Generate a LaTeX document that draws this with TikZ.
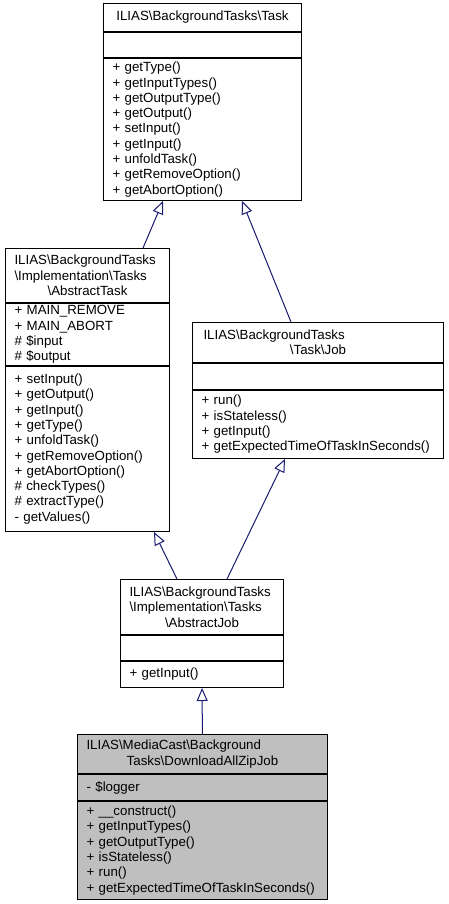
\documentclass[tikz,border=0pt]{standalone}
\usepackage{fontspec}
\setmainfont{Liberation Sans}
\usepackage{xcolor}
\usetikzlibrary{positioning, arrows.meta}

\definecolor{edgeblue}{HTML}{191970}
\definecolor{curgray}{HTML}{BFBFBF}
\newcommand{\bsl}{\textbackslash}
\newcommand{\ctrline}[1]{\hspace*{\fill}#1\hspace*{\fill}\mbox{}}
\hyphenpenalty=10000

\begin{document}
\begin{tikzpicture} [x = 1pt, y = -1pt, node distance = 0pt,
        sec/.style = {draw, line width = 1pt, anchor = north west, inner ysep = 0pt,
            inner xsep = 9pt, align = left, font = \fontsize{13.3}{15.3}\selectfont},
        cur/.style = {sec, fill = curgray},
        inherit/.style = {draw = edgeblue, line width = 1pt,
            -{Triangle[open, length = 13pt, width = 11pt]}}]

        \useasboundingbox (0,0) rectangle (448,904);

        % base interface
        \node (task) [sec, text width = 180pt, minimum height = 28pt] at (103,3)
        {\ctrline{ILIAS\bsl BackgroundTasks\bsl Task}};
        \node (taskattr) [sec, text width = 180pt, minimum height = 25pt, below = of task] {};
        \node (taskops) [sec, text width = 180pt, minimum height = 142pt, below = of taskattr]
        {+ getType()\\+ getInputTypes()\\+ getOutputType()\\+ getOutput()\\+ setInput()\\
        + getInput()\\+ unfoldTask()\\+ getRemoveOption()\\+ getAbortOption()};

        % abstract task
        \node (atask) [sec, text width = 146pt, minimum height = 54pt] at (5,248)
        {ILIAS\bsl BackgroundTasks\\\bsl Implementation\bsl Tasks\\\ctrline{\bsl AbstractTask}};
        \node (ataskattr) [sec, text width = 146pt, minimum height = 62pt, below = of atask]
        {+ MAIN\_REMOVE\\+ MAIN\_ABORT\\\# \$input\\\# \$output};
        \node (ataskops) [sec, text width = 146pt, minimum height = 165pt, below = of ataskattr]
        {+ setInput()\\+ getOutput()\\+ getInput()\\+ getType()\\+ unfoldTask()\\
        + getRemoveOption()\\+ getAbortOption()\\\# checkTypes()\\\# extractType()\\- getValues()};

        % job interface
        \node (job) [sec, text width = 233pt, minimum height = 40pt] at (192,322)
        {\hspace*{2pt}ILIAS\bsl BackgroundTasks\\\ctrline{\bsl Task\bsl Job}};
        \node (jobattr) [sec, text width = 233pt, minimum height = 26pt, below = of job] {};
        \node (jobops) [sec, text width = 233pt, minimum height = 68pt, below = of jobattr]
        {+ run()\\+ isStateless()\\+ getInput()\\+ getExpectedTimeOfTaskInSeconds()};

        % abstract job
        \node (ajob) [sec, text width = 145pt, minimum height = 55pt] at (120,579)
        {ILIAS\bsl BackgroundTasks\\\bsl Implementation\bsl Tasks\\\ctrline{\bsl AbstractJob}};
        \node (ajobattr) [sec, text width = 145pt, minimum height = 25pt, below = of ajob] {};
        \node (ajobops) [sec, text width = 145pt, minimum height = 26pt, below = of ajobattr]
        {+ getInput()};

        % zip job
        \node (zipjob) [cur, text width = 232pt, minimum height = 39pt] at (77,734)
        {ILIAS\bsl MediaCast\bsl Background\\\ctrline{Tasks\bsl DownloadAllZipJob}};
        \node (zipjobattr) [cur, text width = 232pt, minimum height = 26pt, below = of zipjob]
        {- \$logger};
        \node (zipjobops) [cur, text width = 232pt, minimum height = 98pt, below = of zipjobattr]
        {+ \_\_construct()\\+ getInputTypes()\\+ getOutputType()\\+ isStateless()\\+ run()\\
        + getExpectedTimeOfTaskInSeconds()};

        \draw [inherit] ([xshift = 138pt] atask.north west) -- ([xshift = 60pt] taskops.south west);
        \draw [inherit] ([xshift = 99pt] job.north west) -- ([xshift = 139pt] taskops.south west);
        \draw [inherit] ([xshift = 57pt] ajob.north west) -- ([xshift = 149pt] ataskops.south west);
        \draw [inherit] ([xshift = 107pt] ajob.north west) -- ([xshift = 93pt] jobops.south west);
        \draw [inherit] (zipjob) -- (ajobops);

\end{tikzpicture}
\end{document}
